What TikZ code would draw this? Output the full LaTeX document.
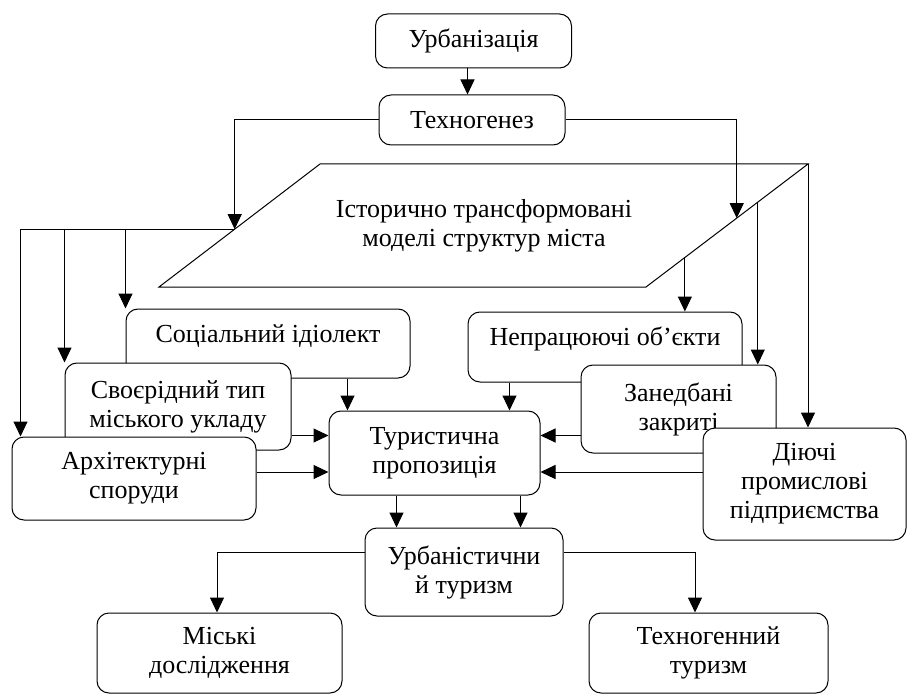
\documentclass[tikz,border=0pt]{standalone}
\usepackage{fontspec}
\setmainfont{Liberation Serif}
\usetikzlibrary{arrows.meta,calc}

\begin{document}
\begin{tikzpicture}[x=1pt,y=-1pt,
		block/.style={draw,line width=1pt,rounded corners=12pt,fill=white,align=center,inner sep=0pt,font=\fontsize{26}{29}\selectfont},
		sz/.style 2 args={minimum width=#1pt,minimum height=#2pt},
		link/.style={line width=1pt,-{Triangle[length=15pt,width=14pt]}}]
			\useasboundingbox (0,0) rectangle (907,695);
			
			% top
			\node[block,sz={196}{54}] (urb) at (473.5,41) {Урбанізація};
			\node[block,sz={186}{50}] (tech) at (472,120) {Техногенез};
			
			% parallelogram
			\coordinate (pTL) at (320,164);
			\coordinate (pTR) at (808,164);
			\coordinate (pBR) at (646,287);
			\coordinate (pBL) at (159,287);
			\draw[line width=1pt,fill=white] (pTL) -- (pTR) -- (pBR) -- (pBL) -- cycle;
			\node[align=center,font=\fontsize{26}{29}\selectfont] (hist) at (484,226) {Історично трансформовані\\моделі структур міста};
			\coordinate (pL) at ($(pBL)!0.47!(pTL)$);
			\coordinate (pR) at ($(pTR)!0.44!(pBR)$);
			\coordinate (pR1) at ($(pTR)!0.76!(pBR)$);
			\coordinate (pR2) at ($(pTR)!0.31!(pBR)$);
			
			% left group
			\node[block,sz={284}{69},text depth=20pt] (soc) at (268,343.5) {Соціальний ідіолект};
			\node[block,sz={226}{87}] (svo) at (178,406.5) {Своєрідний тип\\міського укладу};
			\node[block,sz={244}{83}] (arch) at (134,478.5) {Архітектурні\\споруди};
			
			% right group
			\node[block,sz={274}{70},text depth=22pt] (nepr) at (605,347) {Непрацюючі об’єкти};
			\node[block,sz={195}{88}] (zaned) at (678.5,409) {Занедбані\\закриті};
			\node[block,sz={203}{112}] (diy) at (804.5,484) {Діючі\\промислові\\підприємства};
			
			% centre and bottom
			\node[block,sz={211}{84}] (tur) at (434.5,453) {Туристична\\пропозиція};
			\node[block,sz={198}{88}] (urbt) at (464,572) {Урбаністични\\й туризм};
			\node[block,sz={245}{80}] (misk) at (219.5,653) {Міські\\дослідження};
			\node[block,sz={239}{80}] (tgt) at (708.5,653) {Техногенний\\туризм};
			
			% connectors
			\coordinate (uA) at ([xshift=-6pt]urb.south);
			\draw[link] (uA) -- (uA |- tech.north);
			\draw[link] (tech.west) -| (pL);
			\draw[link] (tech.east) -| (pR);
			
			\coordinate (jA) at ($(arch.north west)+(9,0)$);
			\draw[line width=1pt] (pL) -- (pL -| jA);
			\draw[link] (pL -| jA) -- (jA);
			\draw[link] (pL -| svo.west) -- (svo.north west);
			\draw[link] (pL -| soc.west) -- (soc.north west);
			
			\draw[link] (pR1) -- (pR1 |- nepr.north);
			\draw[link] (pR2) -- (pR2 |- zaned.north);
			\draw[link] (pTR) -- (pTR |- diy.north);
			
			\coordinate (tA) at ($(tur.north west)+(19,0)$);
			\coordinate (tB) at ($(tur.north east)+(-31,0)$);
			\draw[link] (soc.south -| tA) -- (tA);
			\draw[link] (nepr.south -| tB) -- (tB);
			
			\coordinate (s1) at ([yshift=15pt]svo.south east);
			\coordinate (s2) at ([yshift=6.5pt]arch.east);
			\coordinate (s3) at ([yshift=18pt]zaned.south west);
			\coordinate (s4) at ([yshift=12pt]diy.west);
			\draw[link] (s1) -- (s1 -| tur.west);
			\draw[link] (s2) -- (s2 -| tur.west);
			\draw[link] (s3) -- (s3 -| tur.east);
			\draw[link] (s4) -- (s4 -| tur.east);
			
			\coordinate (b1) at ($(tur.south west)+(68,0)$);
			\coordinate (b2) at ($(tur.south east)+(-20,0)$);
			\draw[link] (b1) -- (b1 |- urbt.north);
			\draw[link] (b2) -- (b2 |- urbt.north);
			
			\coordinate (u1) at ([yshift=20pt]urbt.west);
			\coordinate (u2) at ([yshift=20pt]urbt.east);
			\draw[link] (u1) -| ([xshift=-2.5pt]misk.north);
			\draw[link] (u2) -| ([xshift=-13.5pt]tgt.north);
			\end{tikzpicture}
\end{document}
